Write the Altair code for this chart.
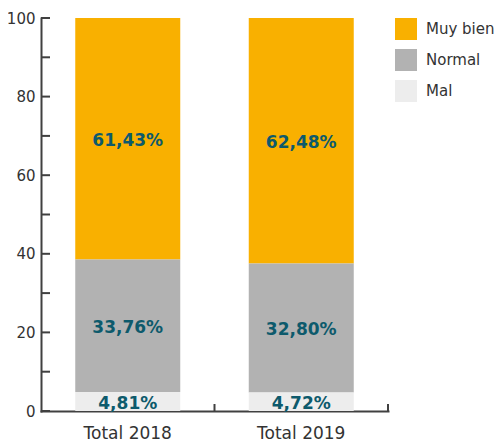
import altair as alt
import pandas as pd

years = ["Total 2018", "Total 2019"]
categories = ["Muy bien", "Normal", "Mal"]
stack_rank = [3, 2, 1]
mal = [4.81, 4.72]
normal = [33.76, 32.80]
muy_bien = [61.43, 62.48]
labels_mal = ["4,81%", "4,72%"]
labels_normal = ["33,76%", "32,80%"]
labels_muy = ["61,43%", "62,48%"]
colors = ["#F9B000", "#B2B2B2", "#EDEDED"]
y_ticks = [0, 10, 20, 30, 40, 50, 60, 70, 80, 90, 100]
y_labels = [0, 20, 40, 60, 80, 100]

rows = []
for i, yr in enumerate(years):
    for cat, vals, labs, rk in zip(categories, [muy_bien, normal, mal],
                                   [labels_muy, labels_normal, labels_mal], stack_rank):
        rows.append({"year": yr, "cat": cat, "value": vals[i], "label": labs[i], "rank": rk})
df = pd.DataFrame(rows)

FONT = "DejaVu Sans"
AX = "#404040"

xscale = alt.Scale(domain=years, paddingInner=0, paddingOuter=0)
yscale = alt.Scale(domain=[0, 100], nice=False)

base = alt.Chart(df)

bars = base.mark_bar(size=105).encode(
    x=alt.X("year:N", scale=xscale, sort=years,
            axis=alt.Axis(title=None, labelAngle=0, ticks=False, domainColor=AX,
                          domainWidth=2, labelFontSize=17, labelColor="#333333",
                          labelFont=FONT, labelPadding=14)),
    y=alt.Y("value:Q", scale=yscale, stack="zero",
            axis=alt.Axis(title=None, values=y_labels, ticks=False, grid=False,
                          domainColor=AX, domainWidth=2, labelFontSize=15,
                          labelColor="#333333", labelFont=FONT, labelPadding=6)),
    color=alt.Color("cat:N", scale=alt.Scale(domain=categories, range=colors),
                    legend=alt.Legend(title=None, symbolType="square", symbolSize=484,
                                      symbolStrokeWidth=0, labelFontSize=15,
                                      labelFont=FONT, labelColor="#333333",
                                      rowPadding=9, offset=7, labelOffset=9,
                                      orient="right")),
    order=alt.Order("rank:Q"),
)

text = base.mark_text(font=FONT, fontSize=17, fontWeight="bold", color="#0D5A6C",
                      baseline="middle", dy=2).encode(
    x=alt.X("year:N", scale=xscale, sort=years),
    y=alt.Y("value:Q", scale=yscale, stack="zero", bandPosition=0.5),
    detail="cat:N",
    order=alt.Order("rank:Q"),
    text="label:N",
)

ytick_df = pd.DataFrame({"v": y_ticks})
yticks = alt.Chart(ytick_df).mark_rule(color=AX, strokeWidth=2).encode(
    y=alt.Y("v:Q", scale=yscale),
    x=alt.value(0), x2=alt.value(9),
)

xtick_df = pd.DataFrame({"year": years})
xticks = alt.Chart(xtick_df).mark_rule(color=AX, strokeWidth=2).encode(
    x=alt.X("year:N", scale=xscale, sort=years, bandPosition=1),
    y=alt.value(386), y2=alt.value(393),
)

chart = alt.layer(bars, text, yticks, xticks).properties(
    width=347, height=393,
    autosize=alt.AutoSizeParams(type="none"),
    padding={"left": 33, "top": 10, "right": 106, "bottom": 31},
).configure_view(stroke=None).configure_axis(domainCap="square")

chart.save("out.html", embed_options={"renderer": "svg", "actions": False})
